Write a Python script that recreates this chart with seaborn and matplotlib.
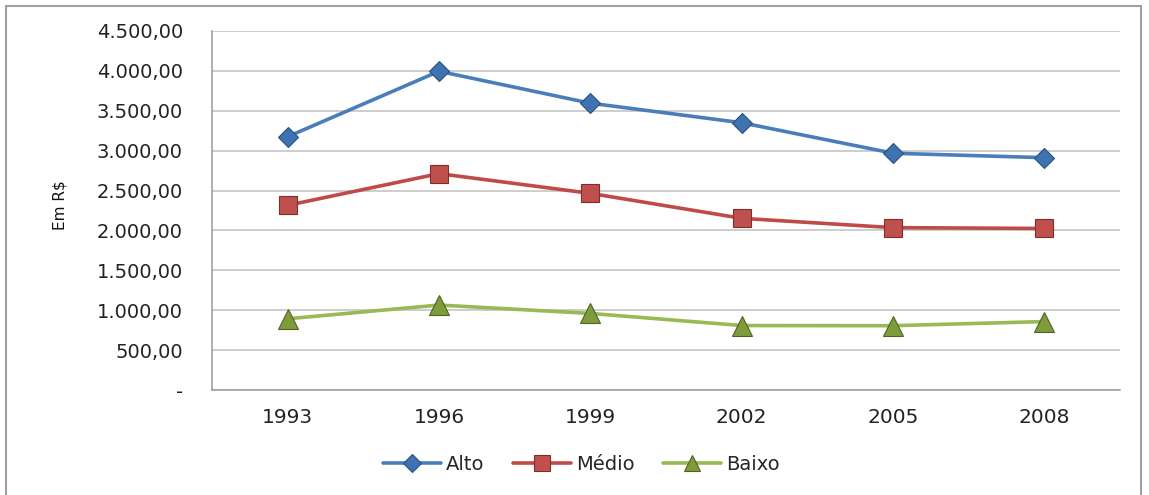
import matplotlib
matplotlib.use("Agg")
import matplotlib.pyplot as plt
import matplotlib.ticker as mticker
from matplotlib.patches import Rectangle
import numpy as np
import pandas as pd
import seaborn as sns

# dados (Em R$)
anos = ["1993", "1996", "1999", "2002", "2005", "2008"]
alto = [3175, 3995, 3595, 3350, 2968, 2912]
medio = [2315, 2712, 2465, 2152, 2035, 2025]
baixo = [893, 1065, 960, 808, 806, 858]
grupos = ["Alto", "Médio", "Baixo"]
y_ticks = [0, 500, 1000, 1500, 2000, 2500, 3000, 3500, 4000, 4500]

linha_cor = {"Alto": "#4A7EBB", "Médio": "#BE4B48", "Baixo": "#98B954"}
marca_cor = {"Alto": "#3E72B0", "Médio": "#C0504D", "Baixo": "#7F9C3A"}
borda_cor = {"Alto": "#2A527F", "Médio": "#7F2E2C", "Baixo": "#4F6228"}
marcas = {"Alto": "D", "Médio": "s", "Baixo": "^"}
tam = {"Alto": 10.5, "Médio": 13, "Baixo": 14}

df = pd.DataFrame({
    "ano": anos * 3,
    "valor": alto + medio + baixo,
    "grupo": [g for g in grupos for _ in anos],
})

sns.set_style("white")
plt.rcParams["font.family"] = ["DejaVu Sans"]

fig = plt.figure(figsize=(11.49, 4.95), dpi=100)
ax = fig.add_axes([0.1845, 0.2121, 0.7903, 0.7253])

sns.lineplot(data=df, x="ano", y="valor", hue="grupo", style="grupo",
             palette=linha_cor, markers=marcas, dashes=False,
             linewidth=2.6, ax=ax, legend=False)

# ajusta marcadores por série
for line, g in zip(ax.get_lines(), grupos):
    line.set_markersize(tam[g])
    line.set_markerfacecolor(marca_cor[g])
    line.set_markeredgecolor(borda_cor[g])
    line.set_markeredgewidth(0.8)

ax.set_xlim(-0.5, 5.5)
ax.set_ylim(0, 4500)
ax.set_yticks(y_ticks)

def fmt_br(v, pos):
    if v == 0:
        return "-"
    s = f"{v:,.2f}"
    return s.replace(",", "X").replace(".", ",").replace("X", ".")

ax.yaxis.set_major_formatter(mticker.FuncFormatter(fmt_br))
ax.set_xticks(range(len(anos)))
ax.set_xticklabels(anos)
ax.set_xticks(np.arange(-0.5, 6, 1), minor=True)
ax.tick_params(axis="x", which="major", length=0, pad=13, labelsize=14.5,
               labelcolor="#222222")
ax.tick_params(axis="x", which="minor", length=5, width=1, color="#999999",
               direction="out")
ax.tick_params(axis="y", length=5, width=1, color="#999999", direction="out",
               pad=16, labelsize=14, labelcolor="#222222")

ax.grid(axis="y", color="#C0C0C0", linewidth=1.1)
ax.set_axisbelow(True)
for s in ["top", "right"]:
    ax.spines[s].set_visible(False)
for s in ["left", "bottom"]:
    ax.spines[s].set_color("#999999")
    ax.spines[s].set_linewidth(1.1)

ax.set_xlabel("")
ax.set_ylabel("Em R$", fontsize=11, color="#111111")
ax.yaxis.set_label_coords(-0.159, 0.515)

handles = []
for g in grupos:
    h, = ax.plot([], [], color=linha_cor[g], linewidth=2.6, marker=marcas[g],
                 markersize=tam[g] * 0.85, markerfacecolor=marca_cor[g],
                 markeredgecolor=borda_cor[g], markeredgewidth=0.8)
    handles.append(h)
fig.legend(handles, grupos, loc="center", bbox_to_anchor=(0.506, 0.062),
           ncol=3, frameon=False, fontsize=14, handlelength=3.0,
           columnspacing=1.45, handletextpad=0.25)

# moldura da figura
fig.patches.append(Rectangle((6 / 1149, -0.05), 1135 / 1149, 1.05 - 6 / 495,
                             transform=fig.transFigure, fill=False,
                             edgecolor="#A0A0A0", linewidth=1.5))

fig.savefig("out.png", dpi=100)
